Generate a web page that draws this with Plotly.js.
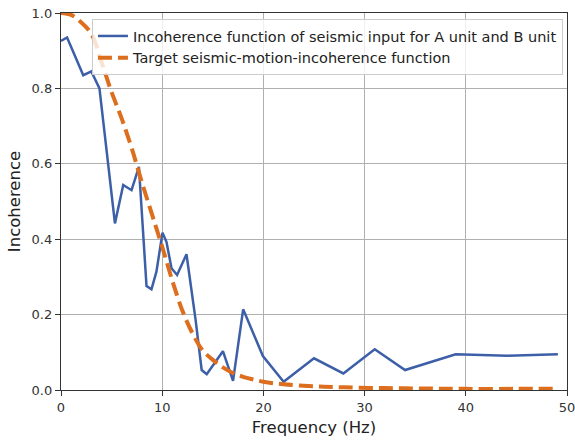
<!DOCTYPE html>
<html>
<head>
<meta charset="utf-8">
<script src="https://cdn.plot.ly/plotly-3.0.1.min.js"></script>
<style>html,body{margin:0;padding:0;background:#fff;}#chart{width:575px;height:441px;}</style>
</head>
<body>
<div id="chart"></div>
<script>
const seriesNames = [
  "Incoherence function of seismic input for A unit and B unit",
  "Target seismic-motion-incoherence function"
];
const measuredFreq = [0, 0.6, 2.2, 3.0, 3.8, 5.33, 6.15, 6.97, 7.7, 8.45, 8.94, 9.43, 10.03, 10.42, 10.92, 11.47, 12.4, 13.3, 13.9, 14.4, 16.0, 17.0, 18.0, 19.95, 22.0, 25.0, 27.9, 31.0, 34.0, 39.0, 44.1, 49.1];
const measuredVal  = [0.926, 0.935, 0.835, 0.845, 0.80, 0.442, 0.544, 0.530, 0.592, 0.276, 0.267, 0.314, 0.417, 0.393, 0.323, 0.305, 0.360, 0.186, 0.053, 0.042, 0.103, 0.024, 0.214, 0.090, 0.022, 0.084, 0.044, 0.108, 0.053, 0.095, 0.091, 0.095];
const targetFreq = [0, 1, 2, 3, 4, 5, 6, 7, 8, 9, 10, 11, 12, 13, 14, 15, 16, 17, 18, 19, 20, 22, 25, 28, 32, 36, 40, 45, 49];
const targetVal  = [1.0, 0.995, 0.975, 0.945, 0.87, 0.79, 0.72, 0.64, 0.55, 0.465, 0.38, 0.29, 0.21, 0.15, 0.105, 0.08, 0.06, 0.045, 0.035, 0.028, 0.022, 0.015, 0.010, 0.007, 0.005, 0.004, 0.003, 0.003, 0.003];
const xTicks = [0, 10, 20, 30, 40, 50];
const yTicks = [0, 0.2, 0.4, 0.6, 0.8, 1.0];

const font = "DejaVu Sans, sans-serif";
const traces = [
  {x: measuredFreq, y: measuredVal, name: seriesNames[0], mode: "lines",
   line: {color: "#3d5fa8", width: 2.5}},
  {x: targetFreq, y: targetVal, name: seriesNames[1], mode: "lines",
   line: {color: "#dd6e1e", width: 4, dash: "14px,6px", shape: "spline"}}
];
const axisCommon = {
  showline: true, linecolor: "#333", linewidth: 1.2, mirror: true,
  ticks: "outside", ticklen: 5, tickcolor: "#333",
  showgrid: true, gridcolor: "#b0b0b0", gridwidth: 1,
  zeroline: false, tickfont: {family: font, size: 13, color: "#333"},
  ticklabeloverflow: "allow"
};
const layout = {
  width: 575, height: 441,
  margin: {l: 61, r: 8, t: 13, b: 51},
  paper_bgcolor: "#fff", plot_bgcolor: "#fff",
  font: {family: font, color: "#222"},
  xaxis: Object.assign({}, axisCommon, {
    range: [0, 50], tickvals: xTicks,
    title: {text: "Frequency (Hz)", font: {family: font, size: 16.5, color: "#222"}, standoff: 7}
  }),
  yaxis: Object.assign({}, axisCommon, {
    range: [0, 1.0], tickvals: yTicks, tickformat: ".1f",
    title: {text: "Incoherence", font: {family: font, size: 16.5, color: "#222"}, standoff: 6}
  }),
  showlegend: true,
  legend: {
    x: 0.992, y: 0.984, xanchor: "right", yanchor: "top",
    bgcolor: "rgba(255,255,255,0.8)", bordercolor: "#ccc", borderwidth: 1,
    font: {family: font, size: 14.5, color: "#222"},
    itemwidth: 30, tracegroupgap: 0
  }
};
Plotly.newPlot("chart", traces, layout, {displayModeBar: false, staticPlot: true});
</script>
</body>
</html>
